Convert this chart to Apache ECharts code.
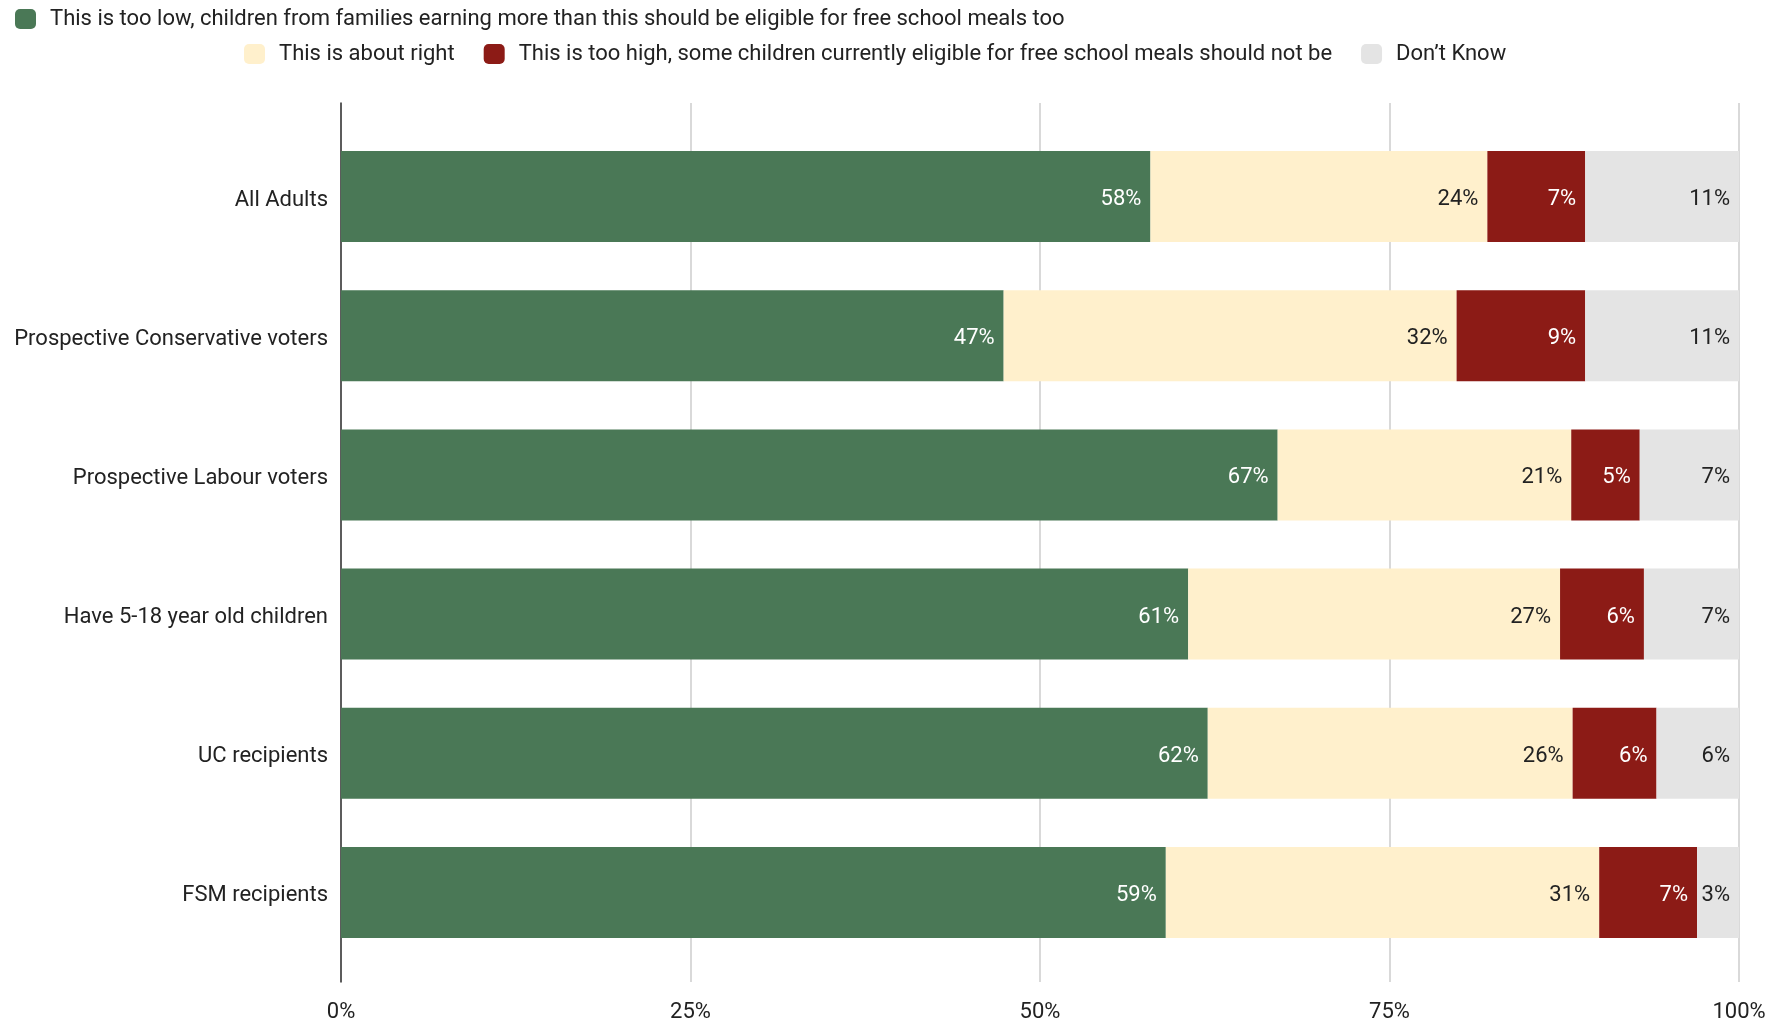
<!DOCTYPE html>
<html>
<head>
<meta charset="utf-8">
<script src="https://cdn.jsdelivr.net/npm/echarts@6/dist/echarts.min.js"></script>
<style>
html,body{margin:0;padding:0;background:#fff;}
#chart{width:1769px;height:1023px;}
</style>
</head>
<body>
<div id="chart"></div>
<script>
const categories = ['All Adults','Prospective Conservative voters','Prospective Labour voters','Have 5-18 year old children','UC recipients','FSM recipients'];
const seriesNames = [
  'This is too low, children from families earning more than this should be eligible for free school meals too',
  'This is about right',
  'This is too high, some children currently eligible for free school meals should not be',
  'Don\u2019t Know'
];
const tooLow     = [57.9, 47.4, 67.0, 60.6, 62.0, 59.0];
const aboutRight = [24.1, 32.4, 21.0, 26.6, 26.1, 31.0];
const tooHigh    = [7.0, 9.2, 4.9, 6.0, 6.0, 7.0];
const dontKnow   = [11.0, 11.0, 7.1, 6.8, 5.9, 3.0];
const xTicks = [0, 25, 50, 75, 100];

const colors = ['#4a7856', '#fff0cc', '#8c1b16', '#e4e4e4'];
const labelColors = ['#ffffff', '#222222', '#ffffff', '#222222'];
const values = [tooLow, aboutRight, tooHigh, dontKnow];
const FONT = 'Roboto, "Noto Sans", sans-serif';
const FS = 22;

const chart = echarts.init(document.getElementById('chart'));
const series = values.map((v, i) => ({
  name: seriesNames[i],
  type: 'bar',
  stack: 'total',
  xAxisIndex: 1,
  yAxisIndex: 1,
  barWidth: 91,
  data: v,
  itemStyle: { color: colors[i] },
  label: {
    show: true,
    position: 'insideRight',
    distance: 9,
    offset: [0, 3],
    color: labelColors[i],
    fontFamily: FONT,
    fontSize: FS,
    formatter: p => Math.round(p.value) + '%'
  },
  emphasis: { disabled: true }
}));

chart.setOption({
  animation: false,
  textStyle: { fontFamily: FONT },
  legend: [
    {
      data: [seriesNames[0]],
      left: 10, top: 3,
      itemWidth: 21, itemHeight: 20, itemGap: 29,
      icon: 'roundRect',
      textStyle: { fontSize: FS, color: '#222', fontFamily: FONT, padding: [0, 0, 0, 9] },
      selectedMode: false
    },
    {
      data: [seriesNames[1], seriesNames[2], seriesNames[3]],
      left: 239, top: 38,
      itemWidth: 21, itemHeight: 20, itemGap: 29,
      icon: 'roundRect',
      textStyle: { fontSize: FS, color: '#222', fontFamily: FONT, padding: [0, 0, 0, 9] },
      selectedMode: false
    }
  ],
  grid: [
    { left: 341, right: 30, top: 103, bottom: 37 },
    { left: 341, right: 30, top: 127, bottom: 61 }
  ],
  xAxis: [
    {
      gridIndex: 0, type: 'value', min: 0, max: 100, interval: 25,
      axisLine: { show: false }, axisTick: { show: false },
      splitLine: { show: true, lineStyle: { color: '#cccccc', width: 1.5 } },
      axisLabel: { formatter: '{value}%', fontSize: FS, color: '#222', fontFamily: FONT, margin: 19 }
    },
    {
      gridIndex: 1, type: 'value', min: 0, max: 100, show: false
    }
  ],
  yAxis: [
    {
      gridIndex: 0, type: 'value', min: 0, max: 1,
      axisLine: { show: true, onZero: false, lineStyle: { color: '#333', width: 1.5 } },
      axisTick: { show: false }, axisLabel: { show: false }, splitLine: { show: false }
    },
    {
      gridIndex: 1, type: 'category', inverse: true, data: categories,
      axisLine: { show: false }, axisTick: { show: false },
      axisLabel: { fontSize: FS, color: '#222', fontFamily: FONT, margin: 13, verticalAlign: 'top', lineHeight: 7 }
    }
  ],
  series: series
});
</script>
</body>
</html>
